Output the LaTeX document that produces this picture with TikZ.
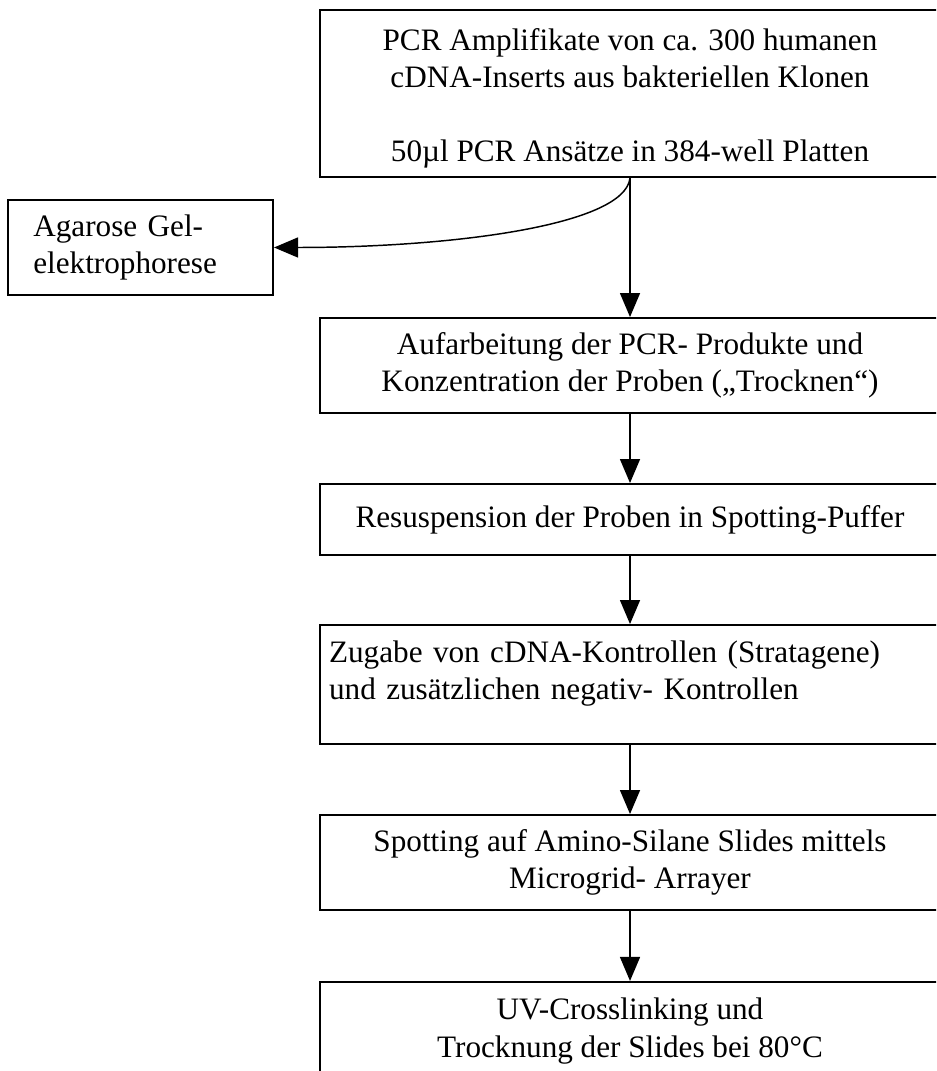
\documentclass[tikz,border=0pt]{standalone}
\usepackage{fontspec}
\setmainfont{Liberation Serif}
\usetikzlibrary{arrows.meta}

\begin{document}
\begin{tikzpicture}[x=0.375pt, y=0.375pt, >={Triangle[width=7.5pt,length=9pt]},
    schritt/.style={rectangle, draw, line width=0.75pt, minimum width=232.5pt, inner sep=0pt, align=center, font=\fontsize{11.7pt}{13.9pt}\selectfont},
    pfeil/.style={->, line width=0.55pt}]
                \useasboundingbox (0,0) rectangle (936,-1071);
                \clip (0,0) rectangle (936,-1071);
                % Arbeitsschritte
                \node (pcr) [schritt, minimum height=62.6pt] at (630,-93.5) {\rule{0pt}{12pt}PCR Amplifikate von ca. 300 humanen\\cDNA-Inserts aus bakteriellen Klonen\\[13.9pt]50µl PCR Ansätze in 384-well Platten};
                \node (gel) [schritt, minimum width=99.4pt, minimum height=35.6pt, inner xsep=9.5pt, text width=80.4pt, align=left] at (140.5,-247.5) {Agarose Gel-\\elektrophorese};
                \node (aufarb) [schritt, minimum height=35.6pt] at (630,-365.5) {Aufarbeitung der PCR- Produkte und\\Konzentration der Proben („Trocknen“)};
                \node (resusp) [schritt, minimum height=26.6pt] at (630,-519.5) {Resuspension der Proben in Spotting-Puffer};
                \node (zugabe) [schritt, minimum height=44.6pt, inner xsep=3.4pt, text width=225.7pt, align=left] at (630,-684.5) {Zugabe von cDNA-Kontrollen (Stratagene)\\und zusätzlichen negativ- Kontrollen\rule[-10.5pt]{0pt}{0pt}};
                \node (spotting) [schritt, minimum height=35.6pt] at (630,-862.5) {Spotting auf Amino-Silane Slides mittels\\Microgrid- Arrayer};
                \node (uv) [schritt, minimum height=36.8pt] at (630,-1031) {UV-Crosslinking und\\Trocknung der Slides bei 80°C};

                % Pfeile
                \draw[pfeil] (pcr.south) to[out=-96, in=0, out distance=18pt, in distance=66pt] (gel.east);
                \draw[pfeil] (pcr) -- (aufarb);
                \draw[pfeil] (aufarb) -- (resusp);
                \draw[pfeil] (resusp) -- (zugabe);
                \draw[pfeil] (zugabe) -- (spotting);
                \draw[pfeil] (spotting) -- (uv);
            \end{tikzpicture}
\end{document}
